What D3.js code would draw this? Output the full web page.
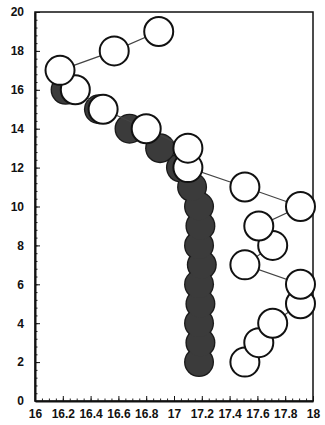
<!DOCTYPE html>
<html>
<head>
<meta charset="utf-8">
<script src="https://cdn.jsdelivr.net/npm/d3@7"></script>
<style>
  html, body { margin: 0; padding: 0; background: #fff; }
  svg { display: block; }
  .tick text { font-family: "Liberation Sans", Arial, sans-serif; font-weight: bold; font-size: 12px; fill: #111; }
</style>
</head>
<body>
<svg id="chart" width="325" height="425"></svg>
<script>
// Depth levels shared by both series (one point per level)
const openY = [2, 3, 4, 5, 6, 7, 8, 9, 10, 11, 12, 13, 14, 15, 16, 17, 18, 19];
const openX = [17.51, 17.61, 17.71, 17.91, 17.91, 17.51, 17.71, 17.61, 17.91, 17.51, 17.10, 17.10, 16.80, 16.49, 16.29, 16.18, 16.57, 16.89];

const darkY = [2, 3, 4, 5, 6, 7, 8, 9, 10, 11, 12, 13, 14, 15, 16];
const darkX = [17.18, 17.19, 17.18, 17.19, 17.18, 17.2, 17.18, 17.19, 17.18, 17.13, 17.05, 16.9, 16.68, 16.46, 16.22];

const xTicks = [16, 16.2, 16.4, 16.6, 16.8, 17, 17.2, 17.4, 17.6, 17.8, 18];
const yTicks = [0, 2, 4, 6, 8, 10, 12, 14, 16, 18, 20];

const svg = d3.select("#chart");
const pL = 35, pR = 313, pT = 12, pB = 401;

const x = d3.scaleLinear().domain([16, 18]).range([pL, pR]);
const y = d3.scaleLinear().domain([0, 20]).range([pB, pT]);

// frame
svg.append("rect")
  .attr("x", pL).attr("y", pT)
  .attr("width", pR - pL).attr("height", pB - pT)
  .attr("fill", "none").attr("stroke", "#111").attr("stroke-width", 1.5);

// minor ticks
svg.append("g")
  .attr("transform", `translate(0,${pB})`)
  .call(d3.axisBottom(x).tickValues(d3.range(16, 18.0001, 0.05)).tickSize(-2.5).tickFormat(""))
  .call(g => g.select(".domain").remove())
  .call(g => g.selectAll("line").attr("stroke", "#222"));
svg.append("g")
  .attr("transform", `translate(${pL},0)`)
  .call(d3.axisLeft(y).tickValues(d3.range(0, 20.0001, 0.4)).tickSize(-2.5).tickFormat(""))
  .call(g => g.select(".domain").remove())
  .call(g => g.selectAll("line").attr("stroke", "#222"));

// major ticks and labels
svg.append("g")
  .attr("transform", `translate(0,${pB})`)
  .call(d3.axisBottom(x).tickValues(xTicks).tickSizeInner(-5).tickSizeOuter(0).tickPadding(8).tickFormat(d3.format("~g")))
  .call(g => g.select(".domain").attr("stroke", "#111").attr("stroke-width", 2))
  .call(g => g.selectAll("line").attr("stroke", "#111"));
svg.append("g")
  .attr("transform", `translate(${pL},0)`)
  .call(d3.axisLeft(y).tickValues(yTicks).tickSizeInner(-5).tickSizeOuter(0).tickPadding(11).tickFormat(d3.format("~g")))
  .call(g => g.select(".domain").attr("stroke", "#111").attr("stroke-width", 2))
  .call(g => g.selectAll("line").attr("stroke", "#111"));

const R = 15;
const darkPts = darkY.map((d, i) => [darkX[i], d]);

// filled series: outlines first, then fills, so the stack reads as one mass
const dark = svg.append("g");
dark.selectAll("circle.edge")
  .data(darkPts)
  .join("circle")
  .attr("class", "edge")
  .attr("cx", d => x(d[0])).attr("cy", d => y(d[1])).attr("r", R)
  .attr("fill", "#1a1a1a");
dark.selectAll("circle.body")
  .data(darkPts)
  .join("circle")
  .attr("class", "body")
  .attr("cx", d => x(d[0])).attr("cy", d => y(d[1])).attr("r", R - 1.3)
  .attr("fill", "#3b3b3b");

// open series: connecting line beneath the circles
const openPts = openY.map((d, i) => [openX[i], d]);
svg.append("path")
  .datum(openPts)
  .attr("d", d3.line().x(d => x(d[0])).y(d => y(d[1])))
  .attr("fill", "none").attr("stroke", "#444").attr("stroke-width", 1.2);

svg.append("g").selectAll("circle")
  .data(openPts)
  .join("circle")
  .attr("cx", d => x(d[0])).attr("cy", d => y(d[1])).attr("r", R - 0.5)
  .attr("fill", "#fff").attr("stroke", "#111").attr("stroke-width", 2);
</script>
</body>
</html>
